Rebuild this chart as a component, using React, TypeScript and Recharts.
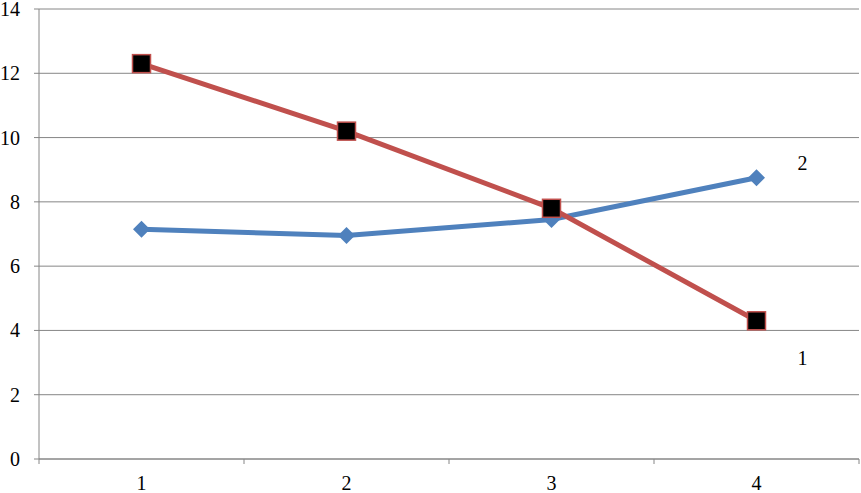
import React from "react";
import { LineChart, Line, XAxis, YAxis, CartesianGrid } from "recharts";

const categories = [1, 2, 3, 4];
const series1 = [12.3, 10.2, 7.8, 4.3];
const series2 = [7.15, 6.95, 7.45, 8.75];
const yTicks = [0, 2, 4, 6, 8, 10, 12, 14];
const seriesNames = ["1", "2"];

const data = categories.map((c, i) => ({ x: c, s1: series1[i], s2: series2[i] }));
const xTicks = [0.5, 1, 1.5, 2, 2.5, 3, 3.5, 4, 4.5];

const FONT = "'Liberation Serif', 'DejaVu Serif', serif";
const textStyle = { fontFamily: FONT, fontSize: 20, fill: "#000", stroke: "none" } as const;

const XTick = (props: any) => {
  const { x, payload } = props;
  const v = payload.value;
  if (Number.isInteger(v)) {
    return (
      <text x={x} y={490} textAnchor="middle" style={textStyle}>
        {v}
      </text>
    );
  }
  return <line x1={x} x2={x} y1={459} y2={464} stroke="#868686" strokeWidth={1} />;
};

const YTick = (props: any) => {
  const { y, payload } = props;
  return (
    <text x={20} y={y} dy={7} textAnchor="end" style={textStyle}>
      {payload.value}
    </text>
  );
};

const Square = (props: any) => {
  const { cx, cy } = props;
  if (cx == null || cy == null) return null;
  return <rect x={cx - 9} y={cy - 9} width={18} height={18} fill="#000" stroke="#C0504D" strokeWidth={1.5} />;
};

const Diamond = (props: any) => {
  const { cx, cy } = props;
  if (cx == null || cy == null) return null;
  const r = 8.5;
  return <polygon points={`${cx},${cy - r} ${cx + r},${cy} ${cx},${cy + r} ${cx - r},${cy}`} fill="#4F81BD" />;
};

const EndLabel = (dx: number, dy: number, text: string) => (props: any) => {
  const { x, y, index } = props;
  if (index !== categories.length - 1) return null;
  return (
    <text x={x + dx} y={y + dy + 7} textAnchor="middle" style={textStyle}>
      {text}
    </text>
  );
};

export default function App() {
  return (
    <div style={{ position: "absolute", left: 0, top: 0, width: 861, height: 493, background: "#fff" }}>
      <LineChart width={861} height={493} data={data} margin={{ top: 9, right: 2, bottom: 0, left: 0 }}>
        <CartesianGrid vertical={false} stroke="#868686" strokeWidth={1} />
        <XAxis
          dataKey="x"
          type="number"
          domain={[0.5, 4.5]}
          ticks={xTicks}
          interval={0}
          height={34}
          stroke="#868686"
          tickLine={false}
          tick={<XTick />}
        />
        <YAxis
          domain={[0, 14]}
          ticks={yTicks}
          interval={0}
          width={39}
          stroke="#868686"
          tickSize={5}
          tick={<YTick />}
        />
        <Line
          dataKey="s2"
          name={seriesNames[1]}
          stroke="#4F81BD"
          strokeWidth={5}
          dot={<Diamond />}
          activeDot={false}
          isAnimationActive={false}
          label={EndLabel(46, -15, seriesNames[1])}
        />
        <Line
          dataKey="s1"
          name={seriesNames[0]}
          stroke="#C0504D"
          strokeWidth={5}
          dot={<Square />}
          activeDot={false}
          isAnimationActive={false}
          label={EndLabel(46, 37, seriesNames[0])}
        />
      </LineChart>
    </div>
  );
}
